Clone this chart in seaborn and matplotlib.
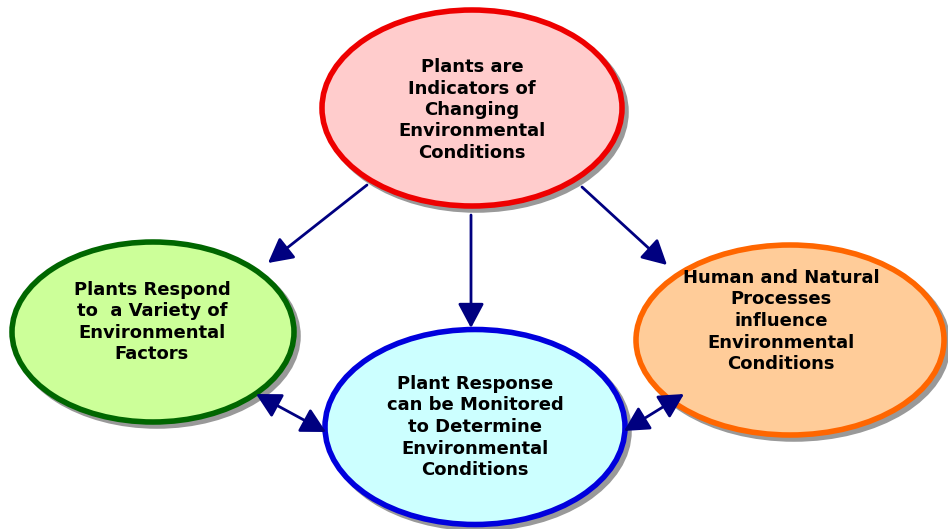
import matplotlib
matplotlib.use("Agg")
import matplotlib.pyplot as plt
import seaborn as sns
from matplotlib.patches import Ellipse, FancyArrowPatch

sns.set_style("white")
plt.rcParams['font.family'] = ['DejaVu Sans']

# nodes of the concept map
labels = [
    "Plants are\nIndicators of\nChanging\nEnvironmental\nConditions",
    "Plants Respond\nto  a Variety of\nEnvironmental\nFactors",
    "Plant Response\ncan be Monitored\nto Determine\nEnvironmental\nConditions",
    "Human and Natural\nProcesses\ninfluence\nEnvironmental\nConditions",
]
centers = [(472, 108), (153, 332), (475, 427), (790, 340)]
sizes = [(300, 196), (282, 180), (300, 195), (308, 190)]
text_pos = [(472, 110), (152, 322), (475, 427), (781, 321)]
fills = ["#ffcccc", "#ccff99", "#ccffff", "#ffcc99"]
edges = ["#ee0000", "#006600", "#0000dd", "#ff6600"]

# links: (start, end, double headed)
links = [
    ((367, 185), (268, 263), False),
    ((471, 215), (471, 328), False),
    ((582, 187), (667, 265), False),
    ((256, 394), (326, 432), True),
    ((624, 431), (684, 394), True),
]

fig = plt.figure(figsize=(9.48, 5.29), dpi=100)
ax = fig.add_axes([0, 0, 1, 1])
ax.set_xlim(0, 948)
ax.set_ylim(529, 0)
ax.axis("off")

for (cx, cy), (w, h), fc, ec in zip(centers, sizes, fills, edges):
    ax.add_patch(Ellipse((cx + 4, cy + 4), w, h, facecolor="#999999",
                         edgecolor="#999999", lw=4, zorder=1))
    ax.add_patch(Ellipse((cx, cy), w, h, facecolor=fc, edgecolor=ec,
                         lw=4, zorder=2))

for (x, y), txt in zip(text_pos, labels):
    ax.text(x, y, txt, ha="center", va="center", fontsize=13,
            fontweight="bold", linespacing=1.25, color="black", zorder=3)

for start, end, both in links:
    style = "<|-|>" if both else "-|>"
    ax.add_patch(FancyArrowPatch(start, end,
                                 arrowstyle=style + ",head_length=15,head_width=8",
                                 color="#000080", lw=2, shrinkA=0, shrinkB=0,
                                 zorder=4))

fig.savefig("out.png", dpi=100)
